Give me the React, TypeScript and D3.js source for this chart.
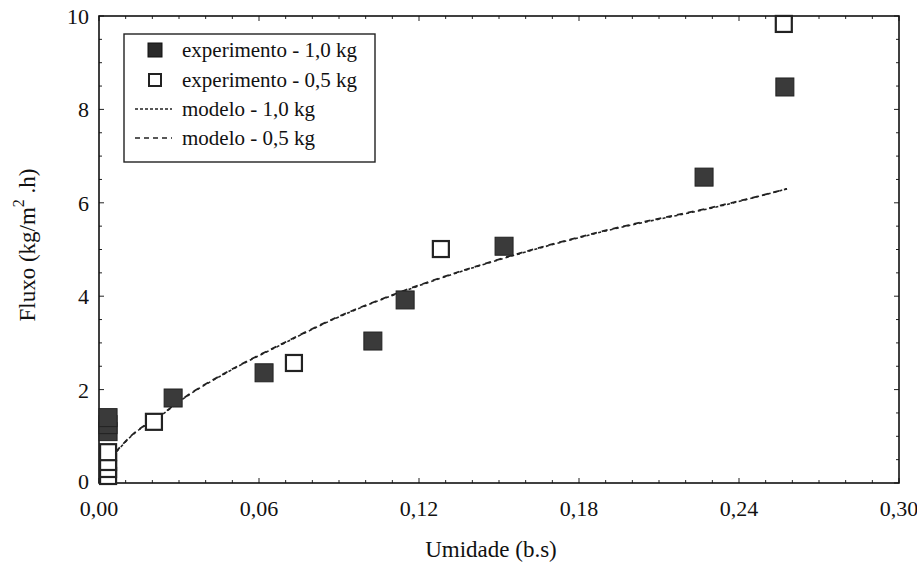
import React from "react";
import * as d3 from "d3";

const xTicks = [0, 0.06, 0.12, 0.18, 0.24, 0.3];
const yTicks = [0, 2, 4, 6, 8, 10];

const exp10X = [0.0034, 0.0034, 0.0034, 0.0278, 0.0619, 0.1027, 0.1148, 0.1519, 0.2269, 0.2572];
const exp10Y = [1.1, 1.25, 1.4, 1.82, 2.36, 3.04, 3.92, 5.07, 6.55, 8.48];

const exp05X = [0.0034, 0.0034, 0.0034, 0.0034, 0.0206, 0.0731, 0.1282, 0.2568];
const exp05Y = [0.15, 0.3, 0.45, 0.66, 1.31, 2.57, 5.01, 9.83];

const mod10X = [0.0034, 0.006, 0.012, 0.0236, 0.031, 0.0484, 0.0686, 0.0885, 0.113, 0.15, 0.188, 0.238, 0.258];
const mod10Y = [0.5, 0.64, 1.0, 1.46, 1.78, 2.38, 2.97, 3.52, 4.08, 4.78, 5.37, 6.0, 6.3];
const mod05X = [0.0034, 0.006, 0.012, 0.0236, 0.031, 0.0484, 0.0686, 0.0885, 0.113, 0.15, 0.188, 0.238, 0.258];
const mod05Y = [0.5, 0.65, 1.01, 1.47, 1.79, 2.39, 2.98, 3.53, 4.09, 4.79, 5.38, 6.01, 6.3];

const legendLabels = ["experimento - 1,0 kg", "experimento - 0,5 kg", "modelo - 1,0 kg", "modelo - 0,5 kg"];

const W = 917, H = 564;
const L = 99, R = 899, T = 16, B = 483;
const font = "Liberation Serif, Tinos, Times New Roman, Times, DejaVu Serif, serif";

export default function App() {
  const x = d3.scaleLinear().domain([0, 0.3]).range([L, R]);
  const y = d3.scaleLinear().domain([0, 10]).range([B, T]);
  const fmtX = (v: number) => v.toFixed(2).replace(".", ",");
  const line = d3.line<[number, number]>().x(d => x(d[0])).y(d => y(d[1])).curve(d3.curveMonotoneX);
  const m10 = mod10X.map((v, i) => [v, mod10Y[i]] as [number, number]);
  const m05 = mod05X.map((v, i) => [v, mod05Y[i]] as [number, number]);
  const xMinor = d3.range(0, 0.3001, 0.01);
  const yMinor = d3.range(0, 10.001, 0.5);
  const S = 18;

  return (
    <svg width={W} height={H} style={{ position: "absolute", left: 0, top: 0, background: "#fff", fontFamily: font }}>
      <rect x={0} y={0} width={W} height={H} fill="#fff" />
      {xMinor.map((v, i) => {
        const major = Math.abs(v / 0.06 - Math.round(v / 0.06)) < 1e-6;
        const len = major ? 5 : 3;
        return (
          <g key={"xt" + i} stroke="#222" strokeWidth={1}>
            <line x1={x(v)} x2={x(v)} y1={B} y2={B - len} />
            <line x1={x(v)} x2={x(v)} y1={T} y2={T + len} />
          </g>
        );
      })}
      {yMinor.map((v, i) => {
        const major = Math.abs(v / 2 - Math.round(v / 2)) < 1e-6;
        const len = major ? 5 : 3;
        return (
          <g key={"yt" + i} stroke="#222" strokeWidth={1}>
            <line x1={L} x2={L + len} y1={y(v)} y2={y(v)} />
            <line x1={R} x2={R - len} y1={y(v)} y2={y(v)} />
          </g>
        );
      })}
      <rect x={L} y={T} width={R - L} height={B - T} fill="none" stroke="#111" strokeWidth={1.6} />

      {xTicks.map((v, i) => (
        <text key={"xl" + i} x={x(v)} y={B + 33} fontSize={22} style={{ fontFamily: font }} textAnchor="middle" fill="#111">
          {fmtX(v)}
        </text>
      ))}
      {yTicks.map((v, i) => (
        <text key={"yl" + i} x={L - 10} y={y(v) + (v === 0 ? 6 : 8)} fontSize={22} style={{ fontFamily: font }} textAnchor="end" fill="#111">
          {v}
        </text>
      ))}
      <text x={(L + R) / 2 - 8} y={557} fontSize={23} style={{ fontFamily: font }} textAnchor="middle" fill="#111">
        Umidade (b.s)
      </text>
      <text transform={`translate(35,${245}) rotate(-90)`} fontSize={23} style={{ fontFamily: font }} textAnchor="middle" fill="#111">
        Fluxo (kg/m<tspan dy={-11} fontSize={16}>2</tspan><tspan dy={11}> .h)</tspan>
      </text>

      <path d={line(m05) || ""} fill="none" stroke="#222" strokeWidth={1.8} strokeDasharray="6,5" />
      <path d={line(m10) || ""} fill="none" stroke="#222" strokeWidth={1.6} strokeDasharray="3,3" />

      {exp05X.map((v, i) => (
        <rect key={"o" + i} x={x(v) - S / 2 + 1} y={y(exp05Y[i]) - S / 2 + 1} width={S - 2} height={S - 2}
          fill="#fff" stroke="#222" strokeWidth={2.2} />
      ))}
      {exp10X.map((v, i) => (
        <rect key={"f" + i} x={x(v) - S / 2} y={y(exp10Y[i]) - S / 2} width={S} height={S}
          fill="#3a3a3a" stroke="#222" strokeWidth={1} />
      ))}

      <g>
        <rect x={124} y={34} width={251} height={128} fill="#fff" stroke="#222" strokeWidth={1.4} />
        <rect x={148} y={43} width={14} height={14} fill="#2a2a2a" stroke="#111" strokeWidth={1} />
        <rect x={149} y={74} width={12} height={12} fill="#fff" stroke="#222" strokeWidth={2} />
        <line x1={135} x2={172} y1={109} y2={109} stroke="#222" strokeWidth={1.4} strokeDasharray="3,2" />
        <line x1={135} x2={172} y1={138} y2={138} stroke="#222" strokeWidth={1.4} strokeDasharray="5,4" />
        {legendLabels.map((t, i) => (
          <text key={"lg" + i} x={182} y={[57, 87, 116, 145][i]} fontSize={21} style={{ fontFamily: font }} fill="#111">
            {t}
          </text>
        ))}
      </g>
    </svg>
  );
}
